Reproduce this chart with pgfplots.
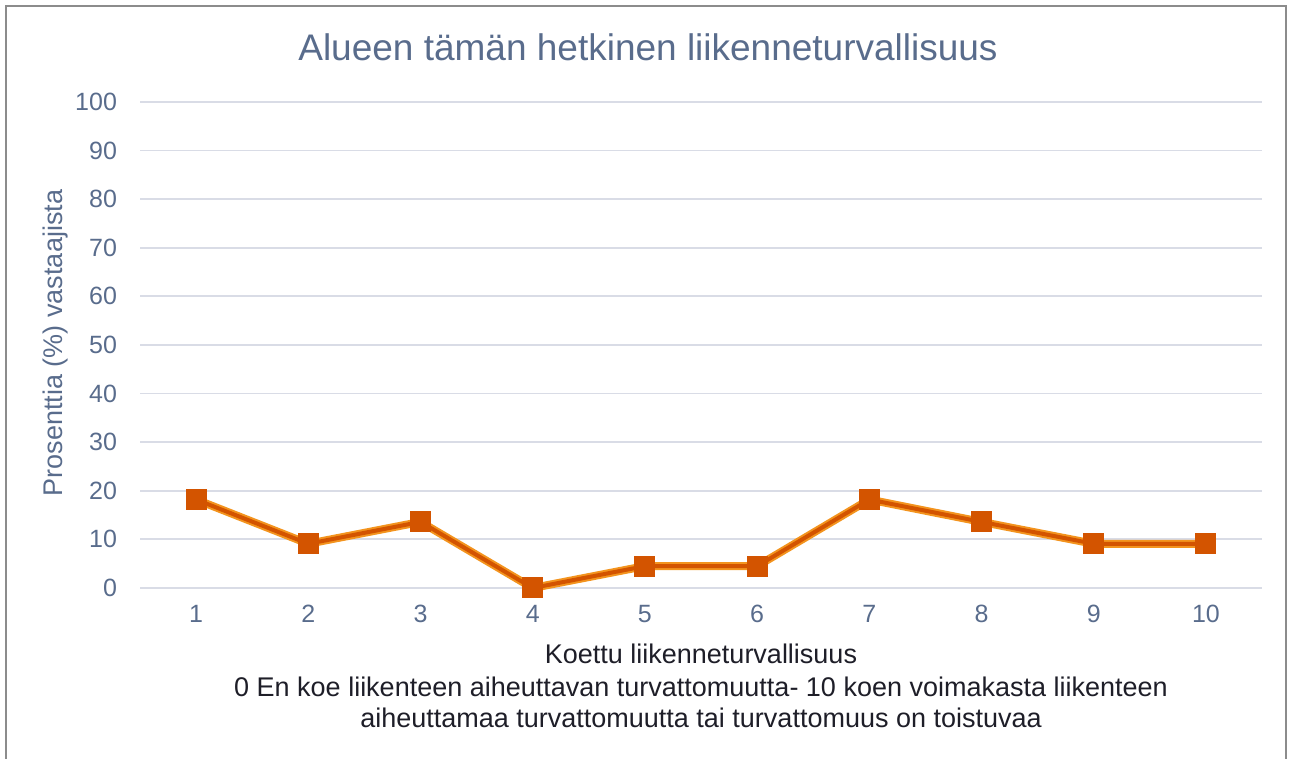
\documentclass[border=0pt]{standalone}
\usepackage{pgfplots}
\pgfplotsset{compat=1.18}
\usepackage{fontspec}
\setmainfont{Liberation Sans}
\definecolor{txtblue}{RGB}{89,108,140}
\definecolor{gridcol}{RGB}{217,220,230}
\definecolor{darkor}{RGB}{211,84,0}
\definecolor{lightor}{RGB}{243,148,30}
\definecolor{framecol}{RGB}{140,140,140}
\definecolor{labcol}{RGB}{30,30,40}

\begin{document}
\begin{tikzpicture}[x=1pt,y=1pt]
\useasboundingbox (0,0) rectangle (645.5,379.5);
% chart frame (left, top, right)
\draw[framecol, line width=1.2pt] (3,0) -- (3,376.5) -- (643,376.5) -- (643,0);

\begin{axis}[
  at={(70pt,85.5pt)}, anchor=south west,
  scale only axis, width=561pt, height=243pt,
  xmin=0.5, xmax=10.5, ymin=0, ymax=100,
  xtick={1,2,...,10}, ytick={0,10,...,100},
  axis line style={draw=none},
  major tick length=0pt,
  ymajorgrids, grid style={gridcol, line width=0.9pt},
  tick label style={font=\fontsize{12.5}{14}\selectfont, text=txtblue},
  /pgf/number format/assume math mode=true,
  yticklabel style={xshift=-8pt},
  xticklabel style={yshift=-5pt},
  clip=false,
]
  \addplot[lightor, line width=4pt, forget plot] coordinates {
    (1,18.2)(2,9.1)(3,13.6)(4,0)(5,4.5)(6,4.5)(7,18.2)(8,13.6)(9,9.1)(10,9.1)
  };
  \addplot[darkor, line width=2pt,
           mark=square*, mark size=5pt,
           mark options={fill=darkor, draw=darkor, line width=0.5pt}] coordinates {
    (1,18.2)(2,9.1)(3,13.6)(4,0)(5,4.5)(6,4.5)(7,18.2)(8,13.6)(9,9.1)(10,9.1)
  };
\end{axis}

\node[text=txtblue, font=\fontsize{18.5}{22}\selectfont] at (324,356) {Alueen tämän hetkinen liikenneturvallisuus};
\node[text=txtblue, font=\fontsize{13.5}{16}\selectfont, rotate=90] at (28,208) {Prosenttia (\%) vastaajista};
\node[text=labcol, font=\fontsize{13.5}{16}\selectfont] at (350.5,52.5) {Koettu liikenneturvallisuus};
\node[text=labcol, font=\fontsize{13.5}{16}\selectfont] at (350.5,36) {0 En koe liikenteen aiheuttavan turvattomuutta- 10 koen voimakasta liikenteen};
\node[text=labcol, font=\fontsize{13.5}{16}\selectfont] at (350.5,20.5) {aiheuttamaa turvattomuutta tai turvattomuus on toistuvaa};
\end{tikzpicture}
\end{document}
